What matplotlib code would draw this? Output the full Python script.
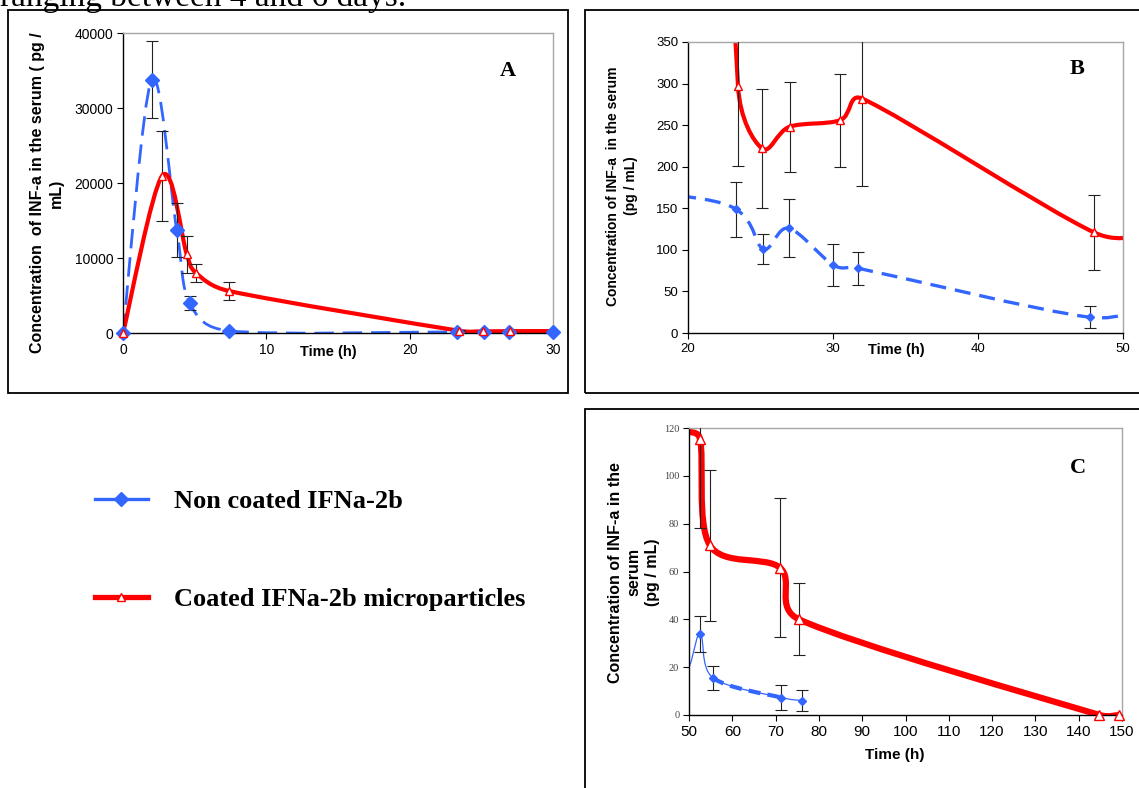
import numpy as np
import matplotlib
matplotlib.use("Agg")
import matplotlib.pyplot as plt
from matplotlib.path import Path
from matplotlib.patches import PathPatch, Rectangle
from matplotlib.lines import Line2D

plt.rcParams['font.family'] = ['Liberation Sans', 'DejaVu Sans']

# --- data (same serum curves, three zoom levels) ---
non_t = [0, 2.0, 3.75, 4.65, 7.4, 23.3, 25.2, 26.95, 30.0, 31.7, 47.7, 52.5, 55.5, 71.3, 76.2]
non_v = [0, 33800, 13700, 4000, 300, 149, 101, 126, 82, 78, 19, 33.8, 15.6, 7.3, 6.0]
non_err = [0, 5100, 3600, 900, 0, 33, 18, 35, 25, 20, 13, 7.4, 5.0, 5.3, 4.5]

coat_t = [0, 2.75, 4.45, 5.1, 7.4, 23.45, 25.1, 27.0, 30.5, 32.0, 48.0, 52.5, 54.8, 71.0, 75.4, 144.8, 149.4]
coat_v = [0, 21000, 10500, 8000, 5600, 297, 222, 248, 256, 282, 121, 115.6, 71, 61.6, 40, 0, 0]
coat_err = [0, 6000, 2500, 1150, 1250, 96, 72, 54, 56, 105, 45, 37.5, 31.5, 29, 15, 0, 0]

legend_labels = ["Non coated IFNa-2b", "Coated IFNa-2b microparticles"]
top_text = "ranging between 4 and 6 days."

BLUE = '#3366FF'
RED = '#FF0000'
ERR = '#222222'
W, H = 1139, 788


def smooth_path(ax, x, y, i0=0, i1=None):
    # Excel-style smoothed line: Bezier segments, control points worked out in
    # screen space with the tangent length capped at half the segment
    pts = ax.transData.transform(np.column_stack([x, y]).astype(float))
    n = len(pts)
    if i1 is None:
        i1 = n - 1
    verts = [pts[i0]]
    codes = [Path.MOVETO]
    for i in range(i0, i1):
        p0 = pts[max(i - 1, 0)]
        p1 = pts[i]
        p2 = pts[i + 1]
        p3 = pts[min(i + 2, n - 1)]
        d12 = np.hypot(*(p2 - p1))
        d02 = np.hypot(*(p2 - p0))
        d13 = np.hypot(*(p3 - p1))
        f1 = 1 / 6 if d02 / 6 < d12 / 2 else d12 / (2 * d02)
        f2 = 1 / 6 if d13 / 6 < d12 / 2 else d12 / (2 * d13)
        verts += [p1 + (p2 - p0) * f1, p2 - (p3 - p1) * f2, p2]
        codes += [Path.CURVE4] * 3
    verts = ax.transData.inverted().transform(np.array(verts))
    return Path(verts, codes)


def px_rect(left, top, right, bottom):
    return [left / W, 1 - bottom / H, (right - left) / W, (bottom - top) / H]


def style_axes(ax, xlim, ylim, xticks, yticks, fs):
    ax.set_xlim(*xlim)
    ax.set_ylim(*ylim)
    ax.set_xticks(xticks)
    ax.set_yticks(yticks)
    for s in ['top', 'right']:
        ax.spines[s].set_color('#A6A6A6')
        ax.spines[s].set_linewidth(1.0)
    for s in ['left', 'bottom']:
        ax.spines[s].set_color('black')
        ax.spines[s].set_linewidth(1.0)
    ax.tick_params(direction='out', length=4, width=0.8, labelsize=fs, pad=3)


def draw_points(ax, t, v, err, xlim, **mk):
    t = np.array(t); v = np.array(v); err = np.array(err)
    inside = (t >= xlim[0] - 0.01) & (t <= xlim[1] + 0.01)
    e = inside & (err > 0)
    ax.errorbar(t[e], v[e], yerr=err[e], fmt='none', ecolor=ERR, elinewidth=0.8,
                capsize=4.5, capthick=0.8, zorder=3)
    ax.plot(t[inside], v[inside], ls='none', clip_on=False, zorder=4, **mk)


fig = plt.figure(figsize=(W / 100, H / 100), dpi=100)

# panel frames
for r in [(8, 10, 568, 393), (585, 10, 1150, 393), (585, 409, 1150, 800)]:
    fig.patches.append(Rectangle((r[0] / W, 1 - r[3] / H), (r[2] - r[0]) / W, (r[3] - r[1]) / H,
                                 transform=fig.transFigure, fill=False, ec='black', lw=1.3))

fig.text(0.0, 1 - 6 / H, top_text, fontsize=24, family='Liberation Serif', va='baseline')

# ---- A ----
axA = fig.add_axes(px_rect(123, 33, 553, 333))
style_axes(axA, (0, 30), (0, 40000), [0, 10, 20, 30], np.arange(0, 40001, 10000), 10)
axA.add_patch(PathPatch(smooth_path(axA, non_t, non_v), fill=False, ec=BLUE, lw=2.0,
                        ls=(0, (7, 3.2)), zorder=2))
axA.add_patch(PathPatch(smooth_path(axA, coat_t, coat_v), fill=False, ec=RED, lw=3.0, zorder=2.5))
draw_points(axA, non_t, non_v, non_err, (0, 30), marker='D', ms=7, color=BLUE)
draw_points(axA, coat_t, coat_v, coat_err, (0, 30), marker='^', ms=6, mfc='white', mec=RED, mew=1)
axA.set_xlabel('Time (h)', fontweight='bold', fontsize=10.5)
axA.xaxis.label.set_va('center')
axA.xaxis.set_label_coords(0.477, -0.063)
axA.set_ylabel('Concentration  of INF-a in the serum ( pg /\nmL)', fontweight='bold',
               fontsize=11.5, linespacing=1.25)
axA.yaxis.label.set(va='center', ha='center')
axA.yaxis.set_label_coords(-0.177, 0.467)
axA.text(0.895, 0.873, 'A', transform=axA.transAxes, ha='center', va='center',
         family='Liberation Serif', fontweight='bold', fontsize=16)

# ---- B ----
axB = fig.add_axes(px_rect(688, 42, 1123, 333))
style_axes(axB, (20, 50), (0, 350), [20, 30, 40, 50], np.arange(0, 351, 50), 9.5)
axB.add_patch(PathPatch(smooth_path(axB, non_t, non_v), fill=False, ec=BLUE, lw=2.4,
                        ls=(0, (4.8, 2.7)), zorder=2))
axB.add_patch(PathPatch(smooth_path(axB, coat_t, coat_v), fill=False, ec=RED, lw=3.0, zorder=2.5))
draw_points(axB, non_t, non_v, non_err, (20, 50), marker='D', ms=4, color=BLUE)
draw_points(axB, coat_t, coat_v, coat_err, (20, 50), marker='^', ms=5.5, mfc='white', mec=RED, mew=1)
axB.set_xlabel('Time (h)', fontweight='bold', fontsize=10.5)
axB.xaxis.label.set_va('center')
axB.xaxis.set_label_coords(0.480, -0.058)
axB.set_ylabel('Concentration of INF-a  in the serum\n(pg / mL)', fontweight='bold',
               fontsize=10, linespacing=1.4)
axB.yaxis.label.set(va='center', ha='center')
axB.yaxis.set_label_coords(-0.152, 0.505)
axB.text(0.894, 0.907, 'B', transform=axB.transAxes, ha='center', va='center',
         family='Liberation Serif', fontweight='bold', fontsize=16)

# ---- C ----
axC = fig.add_axes(px_rect(689, 428, 1122, 715))
style_axes(axC, (50, 150), (0, 120), np.arange(50, 151, 10), np.arange(0, 121, 20), 11)
for lab in axC.get_yticklabels():
    lab.set(family='Liberation Serif', fontsize=7.5, color='#444444')
axC.add_patch(PathPatch(smooth_path(axC, non_t, non_v), fill=False, ec=BLUE, lw=0.9, zorder=2))
i55 = non_t.index(55.5)
axC.add_patch(PathPatch(smooth_path(axC, non_t, non_v, i55, i55 + 1), fill=False, ec=BLUE, lw=3.0,
                        ls=(0, (2.9, 1.7)), zorder=2))
axC.add_patch(PathPatch(smooth_path(axC, coat_t, coat_v), fill=False, ec=RED, lw=4.5, zorder=2.5))
draw_points(axC, non_t, non_v, non_err, (50, 150), marker='D', ms=4.5, color=BLUE)
draw_points(axC, coat_t, coat_v, coat_err, (50, 150), marker='^', ms=6.5, mfc='white', mec=RED, mew=1)
axC.set_xlabel('Time (h)', fontweight='bold', fontsize=11)
axC.xaxis.label.set_va('center')
axC.xaxis.set_label_coords(0.476, -0.139)
axC.set_ylabel('Concentration of INF-a in the\nserum\n(pg / mL)', fontweight='bold',
               fontsize=11.5, linespacing=1.3)
axC.yaxis.label.set(va='center', ha='center')
axC.yaxis.set_label_coords(-0.127, 0.498)
axC.text(0.898, 0.861, 'C', transform=axC.transAxes, ha='center', va='center',
         family='Liberation Serif', fontweight='bold', fontsize=16)

# ---- legend in the empty lower-left area ----
handles = [Line2D([], [], color=BLUE, lw=2.4, marker='D', ms=7),
           Line2D([], [], color=RED, lw=3.8, marker='^', ms=6, mfc='white', mec=RED, mew=1)]
fig.legend(handles, legend_labels, loc='upper left', bbox_to_anchor=(95 / W, 1 - 490 / H),
           frameon=False, borderpad=0, borderaxespad=0, handlelength=2.0, handletextpad=1.0,
           labelspacing=2.8, prop=dict(family='Liberation Serif', weight='bold', size=19))

fig.savefig('out.png', dpi=100)
